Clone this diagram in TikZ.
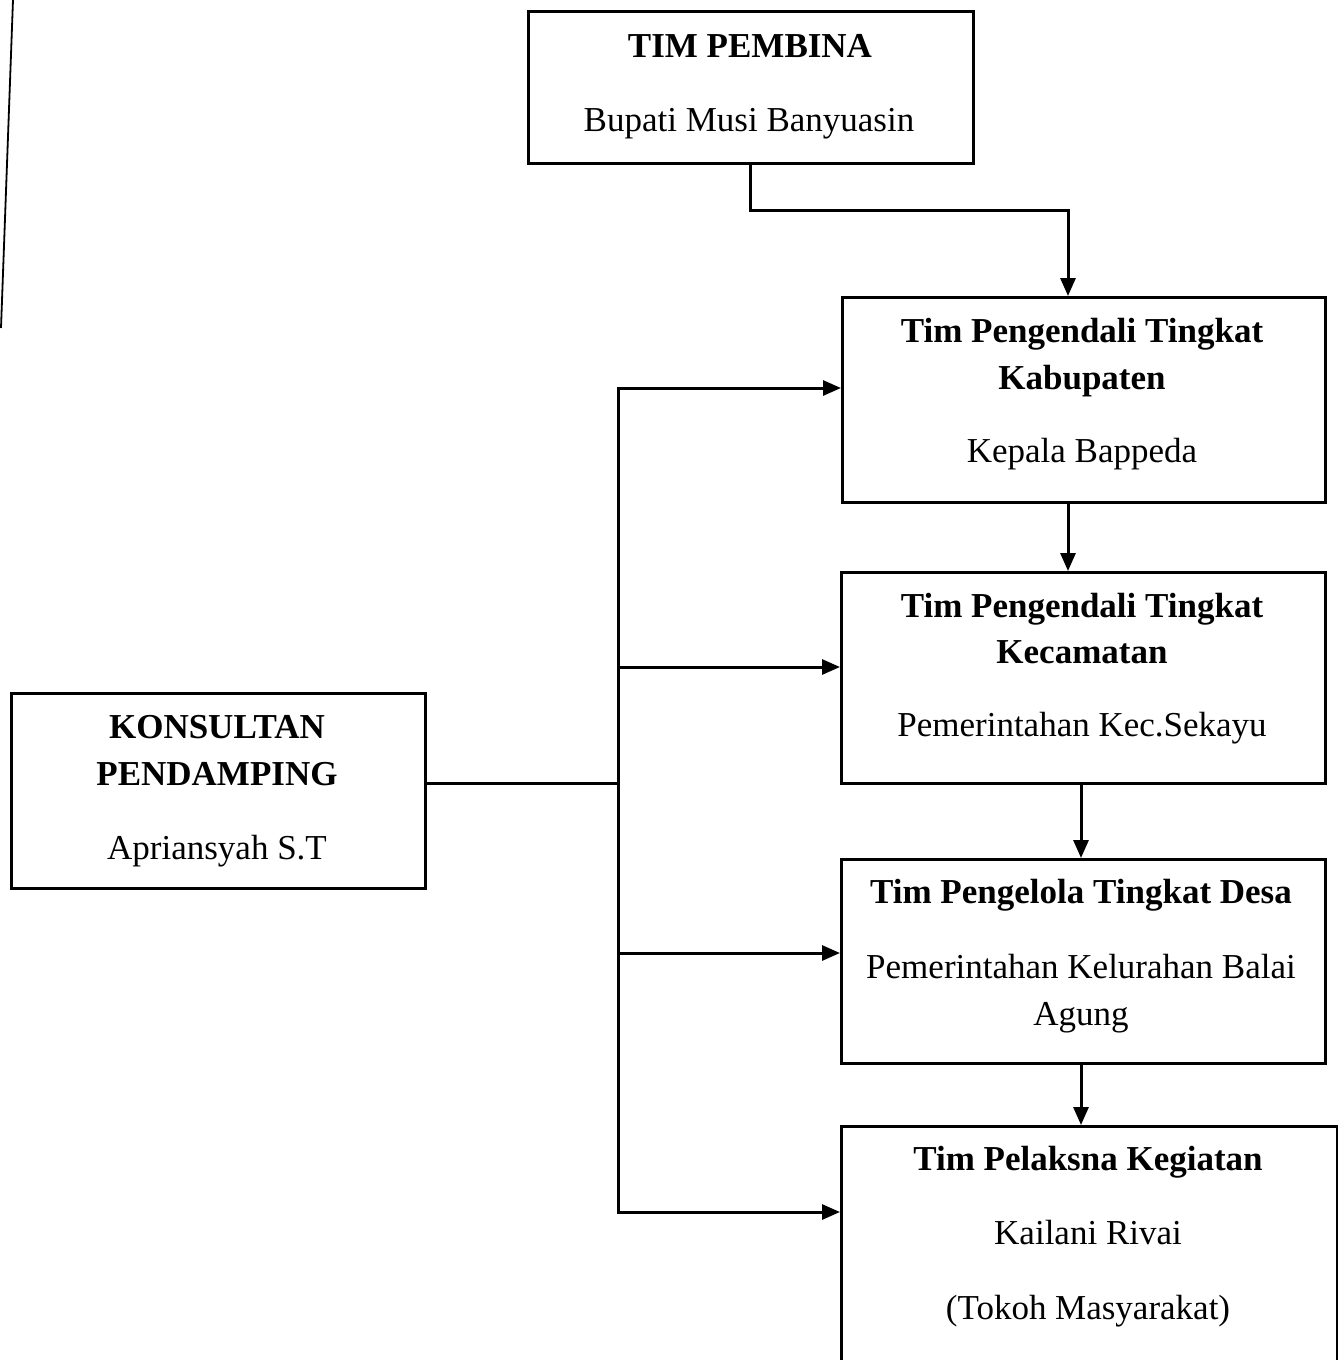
\documentclass[tikz,border=0pt]{standalone}
\usepackage{fontspec}
\setmainfont{Liberation Serif}
\usetikzlibrary{arrows.meta}
\begin{document}
\begin{tikzpicture}[x=1pt,y=-1pt,
  box/.style={draw,line width=2.5pt,inner sep=0pt,anchor=north west},
  conn/.style={line width=3pt,line cap=rect},
  arr/.style={line width=3pt,-{Triangle[length=18pt,width=15pt]}},
  lbl/.style={anchor=base,inner sep=0pt,font=\fontsize{35}{42}\selectfont},
  blbl/.style={anchor=base,inner sep=0pt,font=\fontsize{35}{42}\selectfont\bfseries}]
\useasboundingbox (0,0) rectangle (1338,1360);
\fill[white] (0,0) rectangle (1338,1360);
% scan edge line
\draw[line width=1.8pt] (13,0) -- (1,328);
% boxes
\node[box,minimum width=445pt,minimum height=152pt] (pem) at (527,10) {};
\node[box,minimum width=483pt,minimum height=205pt] (kab) at (841,296) {};
\node[box,minimum width=484pt,minimum height=211pt] (kec) at (840,571) {};
\node[box,minimum width=484pt,minimum height=204pt] (desa) at (840,858) {};
\node[box,minimum width=496pt,minimum height=245pt] (pel) at (840,1125) {};
\node[box,minimum width=414pt,minimum height=195pt] (kons) at (10,692) {};
% texts
\node[blbl] (t1a) at (750,57) {TIM PEMBINA};
\node[lbl]  (t1b) at (749,131) {Bupati Musi Banyuasin};
\node[blbl] (t2a) at (1082,342) {Tim Pengendali Tingkat};
\node[blbl] (t2b) at (1082,389) {Kabupaten};
\node[lbl]  (t2c) at (1082,462) {Kepala Bappeda};
\node[blbl] (t3a) at (1082,617) {Tim Pengendali Tingkat};
\node[blbl] (t3b) at (1082,663) {Kecamatan};
\node[lbl]  (t3c) at (1082,736) {Pemerintahan Kec.Sekayu};
\node[blbl] (t4a) at (1081,903) {Tim Pengelola Tingkat Desa};
\node[lbl]  (t4b) at (1081,978) {Pemerintahan Kelurahan Balai};
\node[lbl]  (t4c) at (1081,1025) {Agung};
\node[blbl] (t5a) at (1088,1170) {Tim Pelaksna Kegiatan};
\node[lbl]  (t5b) at (1088,1244) {Kailani Rivai};
\node[lbl]  (t5c) at (1088,1319) {(Tokoh Masyarakat)};
\node[blbl] (t6a) at (217,738) {KONSULTAN};
\node[blbl] (t6b) at (217,785) {PENDAMPING};
\node[lbl]  (t6c) at (217,859) {Apriansyah S.T};
% connectors
\coordinate (j1) at (1068,210);
\draw[arr] (pem.south) |- (j1) -- ([xshift=227pt]kab.north west);
\draw[arr] ([xshift=227pt]kab.south west) -- ([xshift=228pt]kec.north west);
\draw[arr] ([xshift=241pt]kec.south west) -- ([xshift=241pt]desa.north west);
\draw[arr] ([xshift=241pt]desa.south west) -- ([xshift=241pt]pel.north west);
\coordinate (bus) at (618,783);
\coordinate (b1) at (618,388);
\coordinate (b2) at (618,667);
\coordinate (b3) at (618,953);
\coordinate (b4) at (618,1212);
\draw[conn] (bus -| kons.east) -- (bus);
\draw[conn] (b1) -- (b4);
\draw[arr] (b1) -- (b1 -| kab.west);
\draw[arr] (b2) -- (b2 -| kec.west);
\draw[arr] (b3) -- (b3 -| desa.west);
\draw[arr] (b4) -- (b4 -| pel.west);
\end{tikzpicture}
\end{document}
